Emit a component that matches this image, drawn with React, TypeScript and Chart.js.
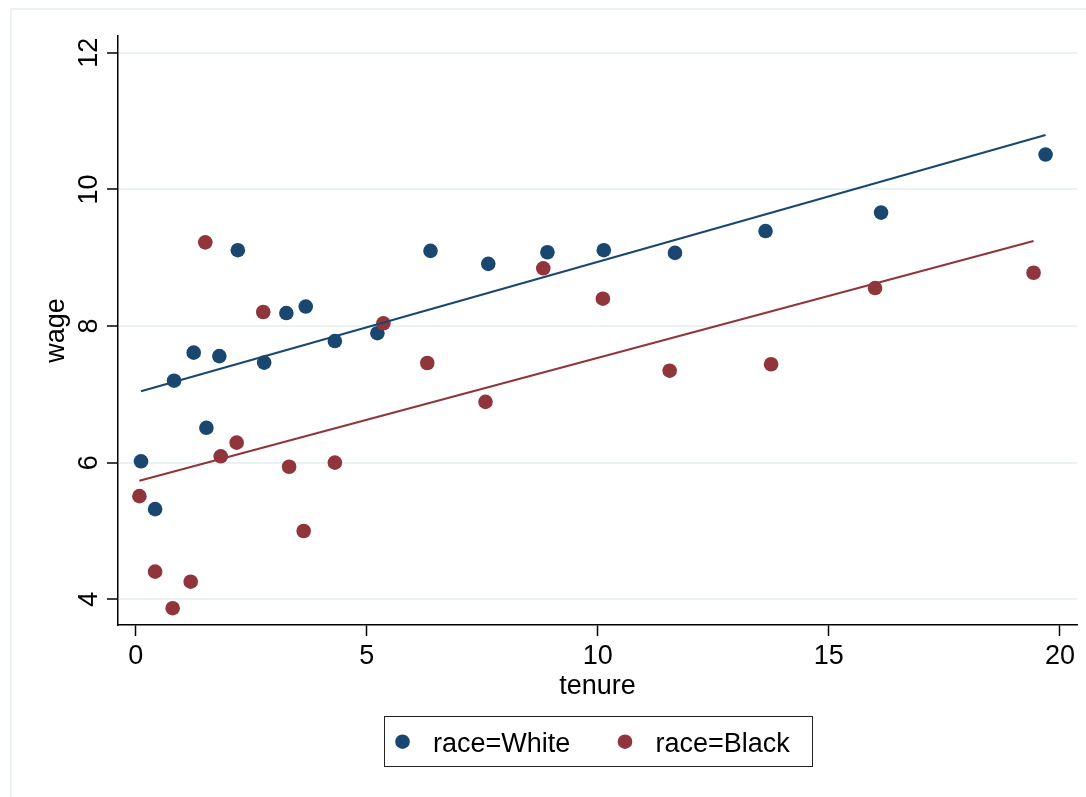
import { useEffect, useRef } from "react";
import { Chart, registerables } from "chart.js";

Chart.register(...registerables);

// Observations: job tenure (years) and hourly wage, by race
const tenureWhite = [0.115, 0.42, 0.83, 1.255, 1.53, 1.81, 2.21, 2.78, 3.26, 3.68, 4.31, 5.23, 6.38, 7.63, 8.91, 10.13, 11.67, 13.63, 16.13, 19.69];
const wageWhite = [6.02, 5.32, 7.2, 7.61, 6.51, 7.56, 9.11, 7.465, 8.19, 8.285, 7.78, 7.895, 9.1, 8.91, 9.08, 9.11, 9.07, 9.39, 9.66, 10.51];
const tenureBlack = [0.08, 0.42, 0.8, 1.19, 1.506, 1.84, 2.185, 2.76, 3.32, 3.635, 4.31, 5.36, 6.31, 7.57, 8.82, 10.11, 11.555, 13.75, 16.0, 19.43];
const wageBlack = [5.51, 4.405, 3.87, 4.258, 9.225, 6.093, 6.293, 8.205, 5.94, 5.0, 6.0, 8.04, 7.459, 6.89, 8.845, 8.4, 7.346, 7.44, 8.556, 8.78];

// Linear-fit end points for each group
const fitTenureWhite = [0.115, 19.69];
const fitWageWhite = [7.045, 10.796];
const fitTenureBlack = [0.08, 19.43];
const fitWageBlack = [5.736, 9.244];

const xTicks = [0, 5, 10, 15, 20];
const yTicks = [4, 6, 8, 10, 12];
const seriesLabels = ["race=White", "race=Black"];
const xTitle = "tenure";
const yTitle = "wage";

const NAVY = "#1a476f";
const MAROON = "#90353b";
const GRID = "#eaf2f3";
const FONT = '27px "Liberation Sans", Arial, Helvetica, sans-serif';
const MARKER_R = 7.3;

const toPoints = (xs: number[], ys: number[]) => xs.map((x, i) => ({ x, y: ys[i] }));

// Draws the outer frame, rotated y labels, axis titles and the boxed legend
const stataDecor = {
  id: "stataDecor",
  beforeDraw(chart: any) {
    const { ctx, width, height } = chart;
    ctx.save();
    ctx.fillStyle = "#fff";
    ctx.fillRect(0, 0, width, height);
    ctx.strokeStyle = GRID;
    ctx.lineWidth = 2;
    ctx.beginPath();
    ctx.moveTo(11, height + 5);
    ctx.lineTo(11, 9);
    ctx.lineTo(width + 5, 9);
    ctx.stroke();
    ctx.restore();
  },
  afterDraw(chart: any) {
    const { ctx, chartArea, scales } = chart;
    const xs = scales.x;
    const ys = scales.y;
    const cx = (chartArea.left + chartArea.right) / 2;
    const cy = (chartArea.top + chartArea.bottom) / 2;
    ctx.save();
    ctx.fillStyle = "#000";
    ctx.font = FONT;
    ctx.textBaseline = "alphabetic";
    ctx.textAlign = "center";

    xTicks.forEach((v) => ctx.fillText(String(v), xs.getPixelForValue(v), chartArea.bottom + 39));
    ctx.fillText(xTitle, cx, chartArea.bottom + 69);

    yTicks.forEach((v) => {
      ctx.save();
      ctx.translate(chartArea.left - 21.5, ys.getPixelForValue(v));
      ctx.rotate(-Math.PI / 2);
      ctx.fillText(String(v), 0, 0);
      ctx.restore();
    });
    ctx.save();
    ctx.translate(chartArea.left - 54, cy);
    ctx.rotate(-Math.PI / 2);
    ctx.fillText(yTitle, 0, 0);
    ctx.restore();

    // legend box
    const lw = 428;
    const lh = 50;
    const lx = Math.round(cx - lw / 2) + 0.5;
    const ly = chartArea.bottom + 91.5;
    ctx.strokeStyle = "#222";
    ctx.lineWidth = 1;
    ctx.strokeRect(lx, ly, lw, lh);
    const colors = [NAVY, MAROON];
    const offsets = [0, 222.5];
    ctx.textAlign = "left";
    seriesLabels.forEach((label, i) => {
      const mx = lx + 18 + offsets[i];
      ctx.fillStyle = colors[i];
      ctx.beginPath();
      ctx.arc(mx, ly + 25.2, MARKER_R, 0, Math.PI * 2);
      ctx.fill();
      ctx.fillStyle = "#000";
      ctx.fillText(label, mx + 30.5, ly + 35.2);
    });
    ctx.restore();
  },
};

export default function App() {
  const canvasRef = useRef<HTMLCanvasElement | null>(null);

  useEffect(() => {
    const canvas = canvasRef.current;
    if (!canvas) return;
    const chart = new Chart(canvas, {
      type: "scatter",
      data: {
        datasets: [
          {
            label: "fit White",
            data: toPoints(fitTenureWhite, fitWageWhite),
            showLine: true,
            borderColor: NAVY,
            borderWidth: 2.2,
            pointRadius: 0,
            order: 0,
          },
          {
            label: "fit Black",
            data: toPoints(fitTenureBlack, fitWageBlack),
            showLine: true,
            borderColor: MAROON,
            borderWidth: 2.2,
            pointRadius: 0,
            order: 0,
          },
          {
            label: seriesLabels[1],
            data: toPoints(tenureBlack, wageBlack),
            backgroundColor: MAROON,
            borderWidth: 0,
            pointRadius: MARKER_R,
            order: 1,
          },
          {
            label: seriesLabels[0],
            data: toPoints(tenureWhite, wageWhite),
            backgroundColor: NAVY,
            borderWidth: 0,
            pointRadius: MARKER_R,
            order: 2,
          },
        ],
      } as any,
      options: {
        responsive: false,
        animation: false,
        devicePixelRatio: 1,
        events: [],
        layout: { padding: { left: 10, right: 9, top: 36, bottom: 92 } },
        plugins: {
          legend: { display: false },
          tooltip: { enabled: false },
          title: { display: false },
        },
        scales: {
          x: {
            type: "linear",
            min: -0.383,
            max: 20.37,
            afterBuildTicks: (s: any) => {
              s.ticks = xTicks.map((v) => ({ value: v }));
            },
            afterFit: (s: any) => {
              s.height = 80;
            },
            ticks: { display: false },
            grid: {
              drawOnChartArea: false,
              drawTicks: true,
              tickLength: 11,
              tickColor: "#000",
              tickWidth: 1.5,
            },
            border: { display: true, color: "#000", width: 1.5 },
          },
          y: {
            type: "linear",
            min: 3.624,
            max: 12.245,
            afterBuildTicks: (s: any) => {
              s.ticks = yTicks.map((v) => ({ value: v }));
            },
            afterFit: (s: any) => {
              s.width = 108;
            },
            ticks: { display: false },
            grid: {
              color: GRID,
              lineWidth: 2,
              drawTicks: true,
              tickLength: 11,
              tickColor: "#000",
              tickWidth: 1.5,
            },
            border: { display: true, color: "#000", width: 1.5 },
          },
        },
      } as any,
      plugins: [stataDecor],
    });
    return () => chart.destroy();
  }, []);

  return (
    <div style={{ position: "fixed", left: 0, top: 0, width: 1086, height: 797, background: "#fff" }}>
      <canvas ref={canvasRef} width={1086} height={797} style={{ display: "block" }} />
    </div>
  );
}
